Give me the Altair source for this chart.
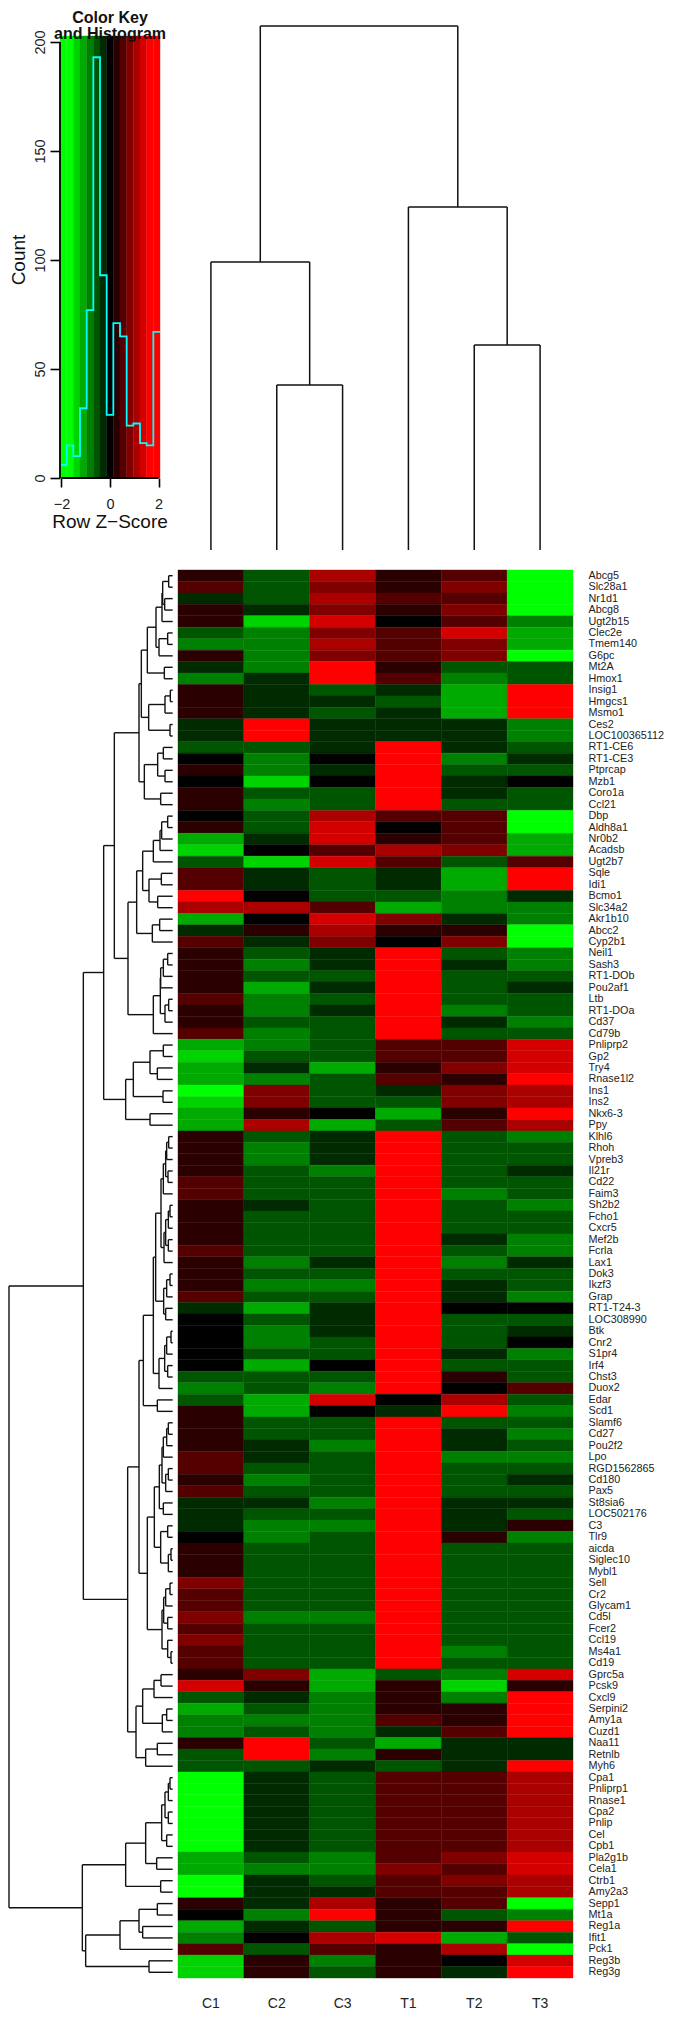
import altair as alt
import pandas as pd

FONT = "Liberation Sans"
SAMPLES = ["C1", "C2", "C3", "T1", "T2", "T3"]
GENES = ["Abcg5","Slc28a1","Nr1d1","Abcg8","Ugt2b15","Clec2e","Tmem140","G6pc","Mt2A","Hmox1",
"Insig1","Hmgcs1","Msmo1","Ces2","LOC100365112","RT1-CE6","RT1-CE3","Ptprcap","Mzb1","Coro1a",
"Ccl21","Dbp","Aldh8a1","Nr0b2","Acadsb","Ugt2b7","Sqle","Idi1","Bcmo1","Slc34a2",
"Akr1b10","Abcc2","Cyp2b1","Neil1","Sash3","RT1-DOb","Pou2af1","Ltb","RT1-DOa","Cd37",
"Cd79b","Pnliprp2","Gp2","Try4","Rnase1l2","Ins1","Ins2","Nkx6-3","Ppy","Klhl6",
"Rhoh","Vpreb3","Il21r","Cd22","Faim3","Sh2b2","Fcho1","Cxcr5","Mef2b","Fcrla",
"Lax1","Dok3","Ikzf3","Grap","RT1-T24-3","LOC308990","Btk","Cnr2","S1pr4","Irf4",
"Chst3","Duox2","Edar","Scd1","Slamf6","Cd27","Pou2f2","Lpo","RGD1562865","Cd180",
"Pax5","St8sia6","LOC502176","C3","Tlr9","aicda","Siglec10","Mybl1","Sell","Cr2",
"Glycam1","Cd5l","Fcer2","Ccl19","Ms4a1","Cd19","Gprc5a","Pcsk9","Cxcl9","Serpini2",
"Amy1a","Cuzd1","Naa11","Retnlb","Myh6","Cpa1","Pnliprp1","Rnase1","Cpa2","Pnlip",
"Cel","Cpb1","Pla2g1b","Cela1","Ctrb1","Amy2a3","Sepp1","Mt1a","Reg1a","Ifit1",
"Pck1","Reg3b","Reg3g"]

# colour level of each cell: -6 full green ... 0 black ... +6 full red
LEVELS = [
[1,-2,4,1,2,-6],[2,-2,3,1,3,-6],[-1,-2,4,2,2,-6],[1,-1,3,1,3,-6],[1,-5,5,0,2,-3],
[-2,-3,3,2,5,-4],[-3,-3,4,2,3,-4],[1,-3,3,2,3,-6],[-1,-3,6,1,-2,-2],[-3,-1,6,2,-3,-2],
[1,-1,-2,-1,-4,6],[1,-1,-1,-2,-4,6],[1,-1,-2,-1,-4,6],[-1,6,-1,-1,-1,-3],[-1,6,-1,-1,-1,-3],
[-2,-2,-1,6,-1,-2],[0,-3,0,6,-3,-1],[1,-3,-1,6,-2,-2],[0,-5,0,6,-1,0],[1,-2,-2,6,-1,-2],
[1,-3,-2,6,-2,-2],[0,-2,4,2,2,-6],[1,-2,5,0,2,-6],[-4,-1,5,1,2,-4],[-5,0,2,4,3,-4],
[-2,-5,5,2,-2,2],[2,-1,-2,-1,-4,6],[2,-1,-2,-1,-4,6],[6,0,-2,-2,-3,-1],[4,4,2,-4,-3,-3],
[-4,0,5,3,-1,-3],[-1,1,4,1,1,-6],[2,-1,3,0,3,-6],[1,-2,-1,6,-2,-3],[1,-3,-1,6,-1,-3],
[1,-2,-2,6,-2,-2],[1,-4,-1,6,-2,-1],[2,-3,-2,6,-2,-2],[1,-3,-1,6,-3,-2],[1,-2,-2,6,-1,-3],
[2,-3,-2,6,-2,-2],[-4,-3,-2,2,2,5],[-5,-2,-2,2,2,5],[-4,-1,-4,1,3,5],[-4,-3,-2,2,1,6],
[-6,3,-2,-1,3,4],[-5,3,-2,-2,3,4],[-4,1,0,-4,1,6],[-4,4,-4,-2,2,4],[1,-2,-1,6,-2,-3],
[1,-3,-1,6,-2,-2],[1,-3,-1,6,-2,-2],[1,-2,-3,6,-2,-1],[2,-2,-2,6,-2,-2],[2,-2,-2,6,-3,-2],
[1,-1,-2,6,-2,-3],[1,-2,-2,6,-2,-2],[1,-2,-2,6,-2,-2],[1,-2,-2,6,-1,-3],[2,-2,-2,6,-2,-3],
[1,-3,-1,6,-3,-1],[1,-2,-2,6,-2,-2],[1,-3,-3,6,-1,-2],[2,-2,-2,6,-1,-3],[-1,-4,-1,6,0,0],
[0,-2,-1,6,-2,-2],[0,-3,-1,6,-2,-1],[0,-3,-2,6,-2,0],[0,-2,-2,6,-1,-3],[0,-4,0,6,-2,-2],
[-2,-2,-2,6,1,-2],[-3,-2,-3,6,0,2],[-2,-4,5,0,4,-2],[1,-4,0,-1,6,-3],[1,-2,-2,6,-2,-2],
[1,-2,-2,6,-1,-3],[1,-1,-3,6,-1,-2],[2,-1,-2,6,-3,-3],[2,-2,-2,6,-2,-2],[1,-3,-2,6,-2,-1],
[2,-2,-2,6,-2,-2],[-1,-1,-3,6,-1,-1],[-1,-2,-2,6,-1,-2],[-1,-3,-3,6,-1,1],[0,-3,-2,6,1,-3],
[1,-2,-2,6,-2,-2],[1,-2,-2,6,-2,-2],[1,-2,-2,6,-2,-2],[3,-2,-2,6,-2,-2],[2,-2,-2,6,-2,-2],
[2,-2,-2,6,-2,-2],[3,-3,-3,6,-2,-2],[2,-2,-2,6,-2,-2],[3,-2,-2,6,-2,-2],[2,-2,-2,6,-3,-2],
[2,-2,-2,6,-2,-2],[1,3,-4,-2,-3,5],[5,1,-4,1,-5,1],[-2,-1,-3,1,-3,6],[-4,-2,-3,1,1,6],
[-3,-3,-3,2,1,6],[-3,-2,-3,-1,2,6],[1,6,-2,-4,-1,-1],[-2,6,-3,1,-1,-1],[-2,-2,-1,-2,-1,6],
[-6,-1,-2,2,2,4],[-6,-1,-2,2,2,4],[-6,-1,-2,2,2,4],[-6,-1,-2,2,2,4],[-6,-1,-2,2,2,4],
[-6,-1,-2,2,2,4],[-6,-1,-2,2,2,4],[-4,-2,-3,2,3,5],[-4,-3,-3,3,2,5],[-6,-1,-2,2,3,4],
[-6,-1,-1,2,2,4],[1,-1,4,1,2,-6],[0,-3,6,1,-2,-3],[-4,-1,-2,1,1,6],[-3,0,4,5,-4,-2],
[2,-2,2,1,4,-6],[-5,1,-3,1,0,5],[-5,1,-2,1,-1,6],
]
assert len(GENES) == len(LEVELS) == 123

# colour key and histogram
KEY_BREAKS = [-2.06,-1.785,-1.511,-1.236,-0.961,-0.687,-0.412,-0.137,0.137,0.412,0.687,0.961,1.236,1.511,1.785,2.06]
KEY_LEVELS = [-6,-6,-5,-4,-3,-2,-1,0,1,2,3,4,5,6,6]
HIST_COUNTS = [6,15,10,32,77,193,93,29,71,65,24,25,16,15,67]
KEY_TOP = 202.75

# column tree: [merge height, left, right], 0 is a leaf
COL_TREE = [524, [288, 0, [165, 0, 0]], [343, 0, [205, 0, 0]]]

# row tree: [merge position on the distance axis, upper, lower], 0 is a leaf
T_A = [468,[486,[488,[506,0,0],[494,0,0]],0],[477,[503,0,0],0]]
T_B = [424,[442,T_A,[493,0,0]],[446,[495,[511,0,0],0],[510,0,0]]]
T_C = [417,T_B,[433,[473,[490,0,0],[495,0,0]],[482,0,0]]]
T_D = [428,[460,[480,[485,[503,0,0],0],0],0],[447,[484,0,0],[473,0,0]]]
T_E = [410,T_D,[457,[479,0,0],0]]
T_F = [460,[481,[482,[490,[503,0,0],0],0],[495,[506,0,0],0]],0]
T_G = [343,T_C,[384,T_E,T_F]]
T_H = [377,[400,[450,[490,0,0],[472,0,0]],[489,0,0]],[450,0,0]]
T_I = [311,T_G,T_H]
T_J = [483,[490,[497,[500,[506,0,0],0],[504,0,0]],0],[492,[497,[505,[510,0,0],0],[505,0,0]],0]]
T_K = [467,T_J,[491,[500,[510,0,0],0],[497,0,0]]]
T_L = [477,[494,[500,[513,0,0],0],[503,0,0]],0]
T_M = [430,[460,T_K,T_L],[472,0,0]]
T_N = [478,[486,[490,[500,[505,0,0],0],0],[497,[505,0,0],0]],[490,0,0]]
T_O = [463,T_N,[482,[503,0,0],[505,[513,0,0],0]]]
T_P = [486,[491,[497,[510,0,0],0],[503,0,0]],[503,0,[513,0,0]]]
T_Q = [417,T_M,[442,T_O,T_P]]
T_R = [428,[462,[483,0,0],0],[487,[500,0,0],0]]
T_S = [383,T_Q,[408,T_R,[437,[472,0,0],0]]]
T_T = [485,[495,[505,[510,0,0],0],[505,0,0]],[500,0,0]]
T_U = [377,[437,T_T,[470,0,0]],[482,0,0]]
T_V = [257,[360,[417,[472,0,0],[428,0,0]],0],[447,0,0]]
ROW_TREE = [27,[250,T_I,T_S],[247,T_U,T_V]]


def tree_segments(tree, leaf_height):
    segs, counter = [], [0]
    def walk(node):
        if node == 0:
            pos = counter[0] + 0.5
            counter[0] += 1
            return pos, leaf_height
        h, a, b = node
        pa, ha = walk(a)
        pb, hb = walk(b)
        segs.append(dict(p1=pa, p2=pa, h1=ha, h2=h))
        segs.append(dict(p1=pb, p2=pb, h1=hb, h2=h))
        segs.append(dict(p1=pa, p2=pb, h1=h, h2=h))
        return (pa + pb) / 2, h
    walk(tree)
    return pd.DataFrame(segs), counter[0]


COLOR = alt.Color("level:Q", legend=None, scale=alt.Scale(
    domain=[-6, 0, 6], range=["#00FF00", "#000000", "#FF0000"], interpolate="rgb"))

# ---- colour key panel
key_x = alt.Scale(domain=[-4.2027, 2.06], nice=False, zero=False)
key_y = alt.Scale(domain=[0, 215.6], nice=False, zero=False)
key_df = pd.DataFrame({"x": KEY_BREAKS[:-1], "x2": KEY_BREAKS[1:], "level": KEY_LEVELS,
                       "y": [0] * 15, "y2": [KEY_TOP] * 15})
key_rect = alt.Chart(key_df).mark_rect(strokeWidth=0.4).encode(
    x=alt.X("x:Q", scale=key_x, axis=alt.Axis(
        values=[-2, -1, 0, 1, 2], title=None, grid=False, domain=False,
        tickSize=9, tickWidth=1.6, tickColor="black", labelFontSize=14.5, labelColor="#222",
        labelFont=FONT, labelPadding=10,
        labelExpr="datum.value == -1 ? '' : datum.label", labelOverlap=False, labelFlush=False)),
    x2="x2:Q",
    y=alt.Y("y:Q", scale=key_y, axis=alt.Axis(
        values=[0, 50, 100, 150, 200], title=None, grid=False, domain=False, offset=-52,
        tickSize=10, tickWidth=1.6, tickColor="black", labelFontSize=14.5, labelColor="#222",
        labelFont=FONT, labelAngle=270, labelAlign="center", labelBaseline="middle",
        labelPadding=10, labelOverlap=False, labelFlush=False)),
    y2="y2:Q", color=COLOR, stroke=COLOR)

hist_df = pd.DataFrame({"x": KEY_BREAKS, "n": HIST_COUNTS + HIST_COUNTS[-1:]})
hist = alt.Chart(hist_df).mark_line(interpolate="step-after", color="#00FFFF", strokeWidth=1.8).encode(
    x=alt.X("x:Q", scale=key_x, title=None), y=alt.Y("n:Q", scale=key_y, title=None))

axis_y = alt.Chart(pd.DataFrame({"x": [KEY_BREAKS[0]], "a": [0], "b": [200]})).mark_rule(
    color="black", strokeWidth=1.8).encode(
    x=alt.X("x:Q", scale=key_x, title=None), y=alt.Y("a:Q", scale=key_y, title=None), y2="b:Q")
axis_x = alt.Chart(pd.DataFrame({"a": [-2], "b": [2], "y": [0]})).mark_rule(
    color="black", strokeWidth=1.8).encode(
    x=alt.X("a:Q", scale=key_x, title=None), x2="b:Q", y=alt.Y("y:Q", scale=key_y, title=None))

key_title = alt.Chart(pd.DataFrame({"t": ["Color Key", "and Histogram"], "x": [0.0, 0.0], "y": [208.7, 201.4]})).mark_text(
    font=FONT, fontSize=16, fontWeight="bold", color="#111", baseline="alphabetic", align="center").encode(
    x=alt.X("x:Q", scale=key_x, title=None), y=alt.Y("y:Q", scale=key_y, title=None), text="t:N")

count_title = alt.Chart(pd.DataFrame({"t": ["Count"], "x": [-3.74], "y": [100.0]})).mark_text(
    font=FONT, fontSize=19, color="#111", baseline="middle", align="center", angle=270).encode(
    x=alt.X("x:Q", scale=key_x, title=None), y=alt.Y("y:Q", scale=key_y, title=None), text="t:N")
z_title = alt.Chart(pd.DataFrame({"t": ["Row Z\u2212Score"], "x": [0.0], "y": [-22.9]})).mark_text(
    font=FONT, fontSize=19, color="#111", baseline="alphabetic", align="center").encode(
    x=alt.X("x:Q", scale=key_x, title=None), y=alt.Y("y:Q", scale=key_y, title=None), text="t:N")

key_panel = alt.layer(key_rect, hist, axis_y, axis_x, key_title, count_title, z_title).properties(width=152, height=470)

# ---- column dendrogram
col_df, n_cols = tree_segments(COL_TREE, 0)
col_panel = alt.Chart(col_df).mark_rule(color="#111", strokeWidth=1.5).encode(
    x=alt.X("p1:Q", axis=None, scale=alt.Scale(domain=[0, n_cols], nice=False, zero=False)),
    x2="p2:Q",
    y=alt.Y("h1:Q", axis=None, scale=alt.Scale(domain=[-10, 542], nice=False, zero=False)),
    y2="h2:Q").properties(width=395, height=552)

# ---- row dendrogram
row_df, n_rows = tree_segments(ROW_TREE, 518)
row_panel = alt.Chart(row_df).mark_rule(color="#111", strokeWidth=1.4).encode(
    x=alt.X("h1:Q", axis=None, scale=alt.Scale(domain=[24, 519], nice=False, zero=False)),
    x2="h2:Q",
    y=alt.Y("p1:Q", axis=None, scale=alt.Scale(domain=[n_rows, 0], nice=False, zero=False)),
    y2="p2:Q").properties(width=165, height=1408)

# ---- heat map
heat_df = pd.DataFrame([
    {"gene": g, "sample": s, "level": v}
    for g, row in zip(GENES, LEVELS) for s, v in zip(SAMPLES, row)])
heat_panel = alt.Chart(heat_df).mark_rect(strokeWidth=0.4).encode(
    x=alt.X("sample:N", sort=SAMPLES, scale=alt.Scale(paddingInner=0, paddingOuter=0),
            axis=alt.Axis(title=None, orient="bottom", ticks=False, domain=False, labelAngle=0,
                          labelFont=FONT, labelFontSize=14, labelColor="#222", labelPadding=18,
                          labelBaseline="top", labelAlign="center")),
    y=alt.Y("gene:N", sort=GENES, scale=alt.Scale(paddingInner=0, paddingOuter=0),
            axis=alt.Axis(title=None, orient="right", ticks=False, domain=False, labelFont=FONT,
                          labelFontSize=10.8, labelColor="#222", labelPadding=15,
                          labelOverlap=False, labelLimit=200)),
    color=COLOR, stroke=COLOR).properties(width=395, height=1408)

chart = alt.concat(key_panel, col_panel, row_panel, heat_panel, columns=2, bounds="flush",
                   spacing={"row": 10, "column": 5}).properties(
    autosize=alt.AutoSizeParams(type="none"),
    padding={"left": 0, "top": 0, "right": 659, "bottom": 2002},
    background="white"
).configure_view(stroke=None)

chart.save("out.html", embed_options={"renderer": "svg", "actions": False})
